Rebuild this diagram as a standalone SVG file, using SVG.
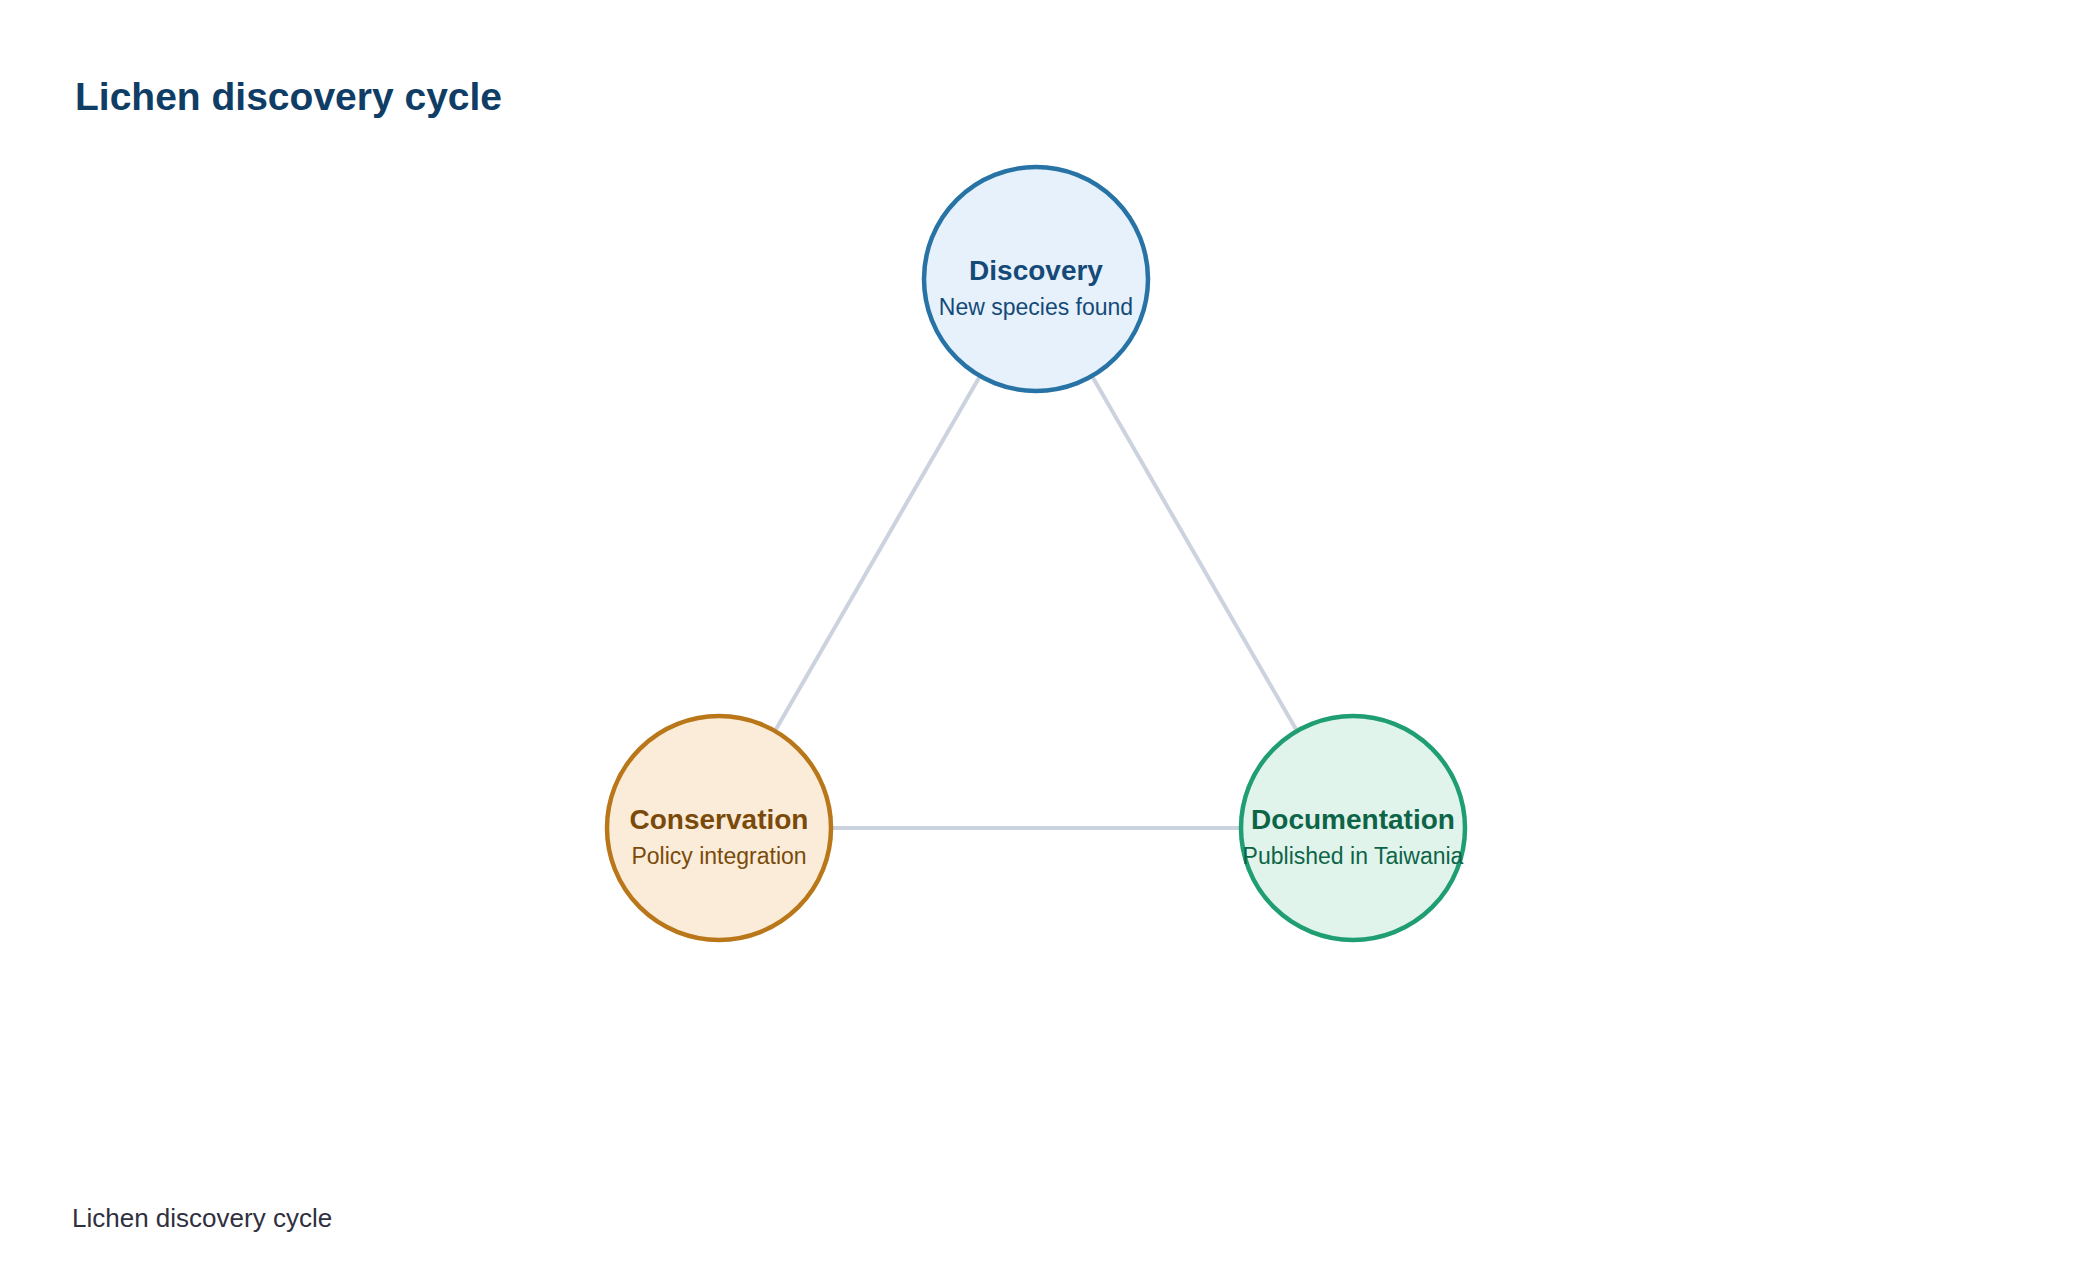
<svg xmlns="http://www.w3.org/2000/svg" width="2080" height="1284" viewBox="0 0 2080 1284">
<style>
.title{font-family:"Liberation Sans",Arial,sans-serif;font-weight:bold;font-size:39px;fill:#0f3d66}
.foot{font-family:"Liberation Sans",Arial,sans-serif;font-size:26px;fill:#30303f}
.edge{stroke:#cbd3de;stroke-width:4;fill:none}
.node circle{stroke-width:4.5}
.lbl{font-family:"Liberation Sans",Arial,sans-serif;font-weight:bold;font-size:28px;text-anchor:middle}
.sub{font-family:"Liberation Sans",Arial,sans-serif;font-size:23px;text-anchor:middle}
</style>
<rect width="2080" height="1284" fill="#ffffff"/>
<text class="title" x="75" y="110">Lichen discovery cycle</text>
<g id="connectors">
<line class="edge" x1="1036" y1="279" x2="719" y2="828"/>
<line class="edge" x1="1036" y1="279" x2="1353" y2="828"/>
<line class="edge" x1="719" y1="828" x2="1353" y2="828"/>
</g>
<g id="discovery" class="node">
<circle cx="1036" cy="279" r="112" fill="#e6f1fb" stroke="#2873a6"/>
<text class="lbl" x="1036" y="280" fill="#154a78">Discovery</text>
<text class="sub" x="1036" y="315" fill="#154a78">New species found</text>
</g>
<g id="conservation" class="node">
<circle cx="719" cy="828" r="112" fill="#faecd9" stroke="#b9771a"/>
<text class="lbl" x="719" y="829" fill="#7a4a0b">Conservation</text>
<text class="sub" x="719" y="864" fill="#7a4a0b">Policy integration</text>
</g>
<g id="documentation" class="node">
<circle cx="1353" cy="828" r="112" fill="#e0f4ec" stroke="#1f9e74"/>
<text class="lbl" x="1353" y="829" fill="#0e6447">Documentation</text>
<text class="sub" x="1353" y="864" fill="#0e6447">Published in Taiwania</text>
</g>
<text class="foot" x="72" y="1227">Lichen discovery cycle</text>
</svg>
